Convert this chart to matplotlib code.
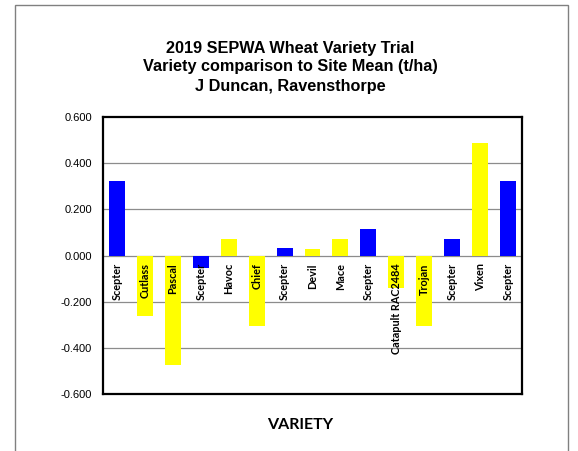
import matplotlib
matplotlib.use("Agg")
import matplotlib.pyplot as plt
from matplotlib.patches import Rectangle

varieties = ["Scepter", "Cutlass", "Pascal", "Scepter", "Havoc", "Chief", "Scepter",
             "Devil", "Mace", "Scepter", "Catapult RAC2484", "Trojan", "Scepter",
             "Vixen", "Scepter"]
values = [0.323, -0.264, -0.473, -0.054, 0.071, -0.304, 0.032,
          0.029, 0.071, 0.114, -0.139, -0.304, 0.071, 0.488, 0.323]
colors = ["#0000FF", "#FFFF00", "#FFFF00", "#0000FF", "#FFFF00", "#FFFF00", "#0000FF",
          "#FFFF00", "#FFFF00", "#0000FF", "#FFFF00", "#FFFF00", "#0000FF",
          "#FFFF00", "#0000FF"]
yticks = [-0.6, -0.4, -0.2, 0.0, 0.2, 0.4, 0.6]

W, H = 578, 451
fig = plt.figure(figsize=(W / 100, H / 100), dpi=100)
fig.patch.set_facecolor("white")

# outer chart border
fig.add_artist(Rectangle((15 / W, -0.05), (568 - 15) / W, 1 - 5 / H + 0.05,
                         transform=fig.transFigure, fill=False,
                         edgecolor="#808080", linewidth=1.0))

ax = fig.add_axes([103 / W, 1 - 394 / H, (522 - 103) / W, (394 - 117) / H])
x = list(range(len(varieties)))
ax.bar(x, values, width=0.57, color=colors, zorder=3)
ax.set_xlim(-0.5, len(varieties) - 0.5)
ax.set_ylim(-0.6, 0.6)
ax.set_yticks(yticks)
ax.set_yticklabels([f"{v:.3f}" for v in yticks], fontsize=8,
                   fontfamily="Liberation Sans")
ax.tick_params(axis="y", length=0, pad=8)
ax.set_xticks([])
for y in yticks[1:-1]:
    ax.axhline(y, color="#8c8c8c", linewidth=0.9, zorder=1)
for s in ax.spines.values():
    s.set_linewidth(1.6)
    s.set_color("black")

for xi, name in zip(x, varieties):
    ax.annotate(name, (xi, 0), xytext=(0, -5.5), textcoords="offset points",
                rotation=90, ha="center", va="top", fontsize=7.8,
                fontweight="bold", fontfamily="Lato", zorder=4)

title_lines = ["2019 SEPWA Wheat Variety Trial",
               "Variety comparison to Site Mean (t/ha)",
               "J Duncan, Ravensthorpe"]
for ypix, line in zip([48, 67, 87], title_lines):
    fig.text(290 / W, 1 - ypix / H, line, ha="center", va="center",
             fontsize=11.7, fontweight="bold", fontfamily="Liberation Sans")
fig.text(300 / W, 1 - 425 / H, "VARIETY", ha="center", va="center",
         fontsize=11.5, fontweight="bold", fontfamily="Lato")

fig.savefig("out.png", dpi=100)
